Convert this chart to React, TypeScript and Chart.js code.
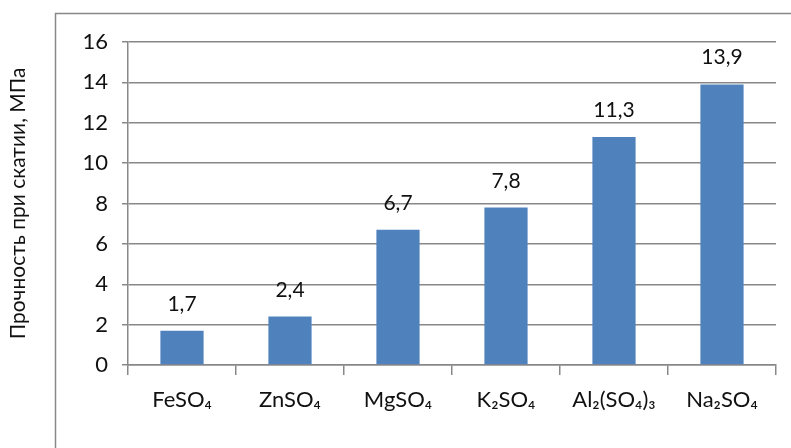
import React, { useEffect, useRef } from "react";
import { Chart, registerables } from "chart.js";

Chart.register(...registerables);

const categories = ["FeSO₄", "ZnSO₄", "MgSO₄", "K₂SO₄", "Al₂(SO₄)₃", "Na₂SO₄"];
const values = [1.7, 2.4, 6.7, 7.8, 11.3, 13.9];
const valueLabels = ["1,7", "2,4", "6,7", "7,8", "11,3", "13,9"];
const yTitle = "Прочность при скатии, МПа";

const FONT = "Lato, 'Noto Sans', sans-serif";
const GRID = "#888888";
const TEXT = "#111111";

const framePlugin = {
  id: "frame",
  beforeDraw(chart: any) {
    const ctx = chart.ctx;
    ctx.save();
    ctx.fillStyle = "#ffffff";
    ctx.fillRect(0, 0, chart.width, chart.height);
    ctx.strokeStyle = GRID;
    ctx.lineWidth = 1.5;
    ctx.strokeRect(55.5, 13.5, chart.width, chart.height);
    ctx.restore();
  },
};

const valueLabelPlugin = {
  id: "valueLabels",
  afterDatasetsDraw(chart: any) {
    const ctx = chart.ctx;
    const meta = chart.getDatasetMeta(0);
    ctx.save();
    ctx.font = `21px ${FONT}`;
    ctx.fillStyle = TEXT;
    ctx.textAlign = "center";
    ctx.textBaseline = "alphabetic";
    meta.data.forEach((bar: any, i: number) => {
      ctx.fillText(valueLabels[i], bar.x, bar.y - 20);
    });
    ctx.restore();
  },
};

export default function App() {
  const ref = useRef<HTMLCanvasElement>(null);
  useEffect(() => {
    if (!ref.current) return;
    const chart = new Chart(ref.current, {
      type: "bar",
      data: {
        labels: categories,
        datasets: [
          {
            data: values,
            backgroundColor: "#4F81BD",
            borderWidth: 0,
            barPercentage: 0.4,
            categoryPercentage: 1,
          },
        ],
      },
      options: {
        animation: false,
        responsive: false,
        maintainAspectRatio: false,
        layout: { padding: { top: 42, right: 15, bottom: 0, left: 0 } },
        plugins: { legend: { display: false }, tooltip: { enabled: false } },
        scales: {
          x: {
            offset: true,
            grid: {
              offset: true,
              drawOnChartArea: false,
              drawTicks: true,
              tickLength: 10,
              color: GRID,
              lineWidth: 1.5,
            },
            border: { color: GRID, width: 1.5 },
            ticks: {
              font: { family: FONT, size: 22 },
              color: TEXT,
              padding: 12,
              maxRotation: 0,
              autoSkip: false,
            },
            afterFit(scale: any) {
              scale.height = 83;
            },
          },
          y: {
            min: 0,
            max: 16,
            ticks: {
              stepSize: 2,
              font: { family: FONT, size: 22 },
              color: TEXT,
              padding: 14,
            },
            grid: { color: GRID, lineWidth: 1.5, tickLength: 6 },
            border: { color: GRID, width: 1.5 },
            title: {
              display: true,
              text: yTitle,
              font: { family: FONT, size: 21 },
              color: TEXT,
              padding: { top: 6, bottom: 0 },
            },
            afterFit(scale: any) {
              scale.width = 128;
            },
          },
        },
      },
      plugins: [framePlugin, valueLabelPlugin],
    });
    return () => chart.destroy();
  }, []);
  return (
    <div style={{ position: "absolute", left: 0, top: 0, width: 791, height: 448 }}>
      <canvas ref={ref} width={791} height={448} style={{ display: "block" }} />
    </div>
  );
}
